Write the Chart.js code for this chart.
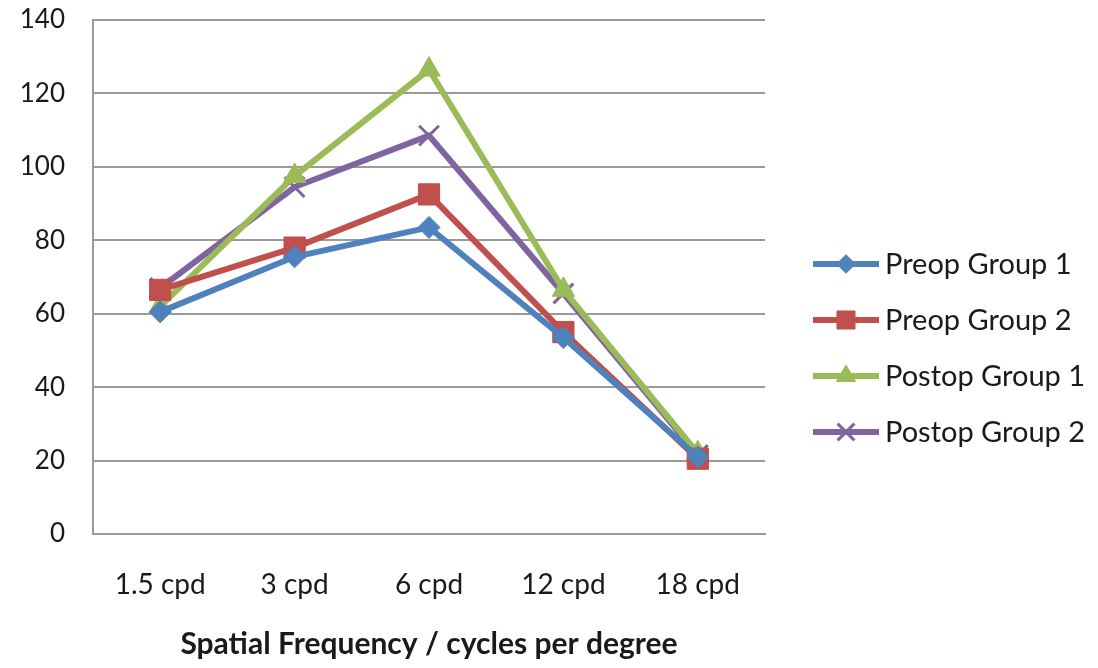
<!DOCTYPE html>
<html>
<head>
<meta charset="utf-8">
<script src="https://cdn.jsdelivr.net/npm/chart.js@4/dist/chart.umd.min.js"></script>
<style>
  html, body { margin: 0; padding: 0; background: #fff; }
  #wrap { width: 1098px; height: 668px; position: relative; }
</style>
</head>
<body>
<div id="wrap"><canvas id="chart"></canvas></div>
<script>
// Chart data
const categories = ['1.5 cpd', '3 cpd', '6 cpd', '12 cpd', '18 cpd'];
const preopGroup1 = [60.5, 75.5, 83.5, 53.5, 21];
const preopGroup2 = [66.5, 78, 92.5, 55, 20.5];
const postopGroup1 = [62, 97.5, 126.5, 66.5, 22];
const postopGroup2 = [67, 94.5, 108.5, 65.5, 21.5];
const yTicks = [0, 20, 40, 60, 80, 100, 120, 140];
const axisTitle = 'Spatial Frequency / cycles per degree';

const FONT = 'Lato, "Open Sans", sans-serif';

const series = [
    { label: 'Preop Group 1', data: preopGroup1, color: '#4F81BD', style: 'rectRot', radius: 11 },
    { label: 'Preop Group 2', data: preopGroup2, color: '#C0504D', style: 'rect', radius: 15 },
    { label: 'Postop Group 1', data: postopGroup1, color: '#9BBB59', style: 'triangle', radius: 13 },
    { label: 'Postop Group 2', data: postopGroup2, color: '#8064A2', style: 'crossRot', radius: 14 }
];

// Legend drawn by hand: line with marker in the middle, like the original
const sideLegend = {
    id: 'sideLegend',
    afterDraw(chart) {
        const ctx = chart.ctx;
        const x0 = 813, x1 = 879, tx = 885;
        const ys = [264, 320, 376, 432];
        ctx.save();
        chart.data.datasets.forEach((ds, i) => {
            const y = ys[i];
            ctx.strokeStyle = ds.borderColor;
            ctx.lineWidth = 6;
            ctx.beginPath();
            ctx.moveTo(x0, y);
            ctx.lineTo(x1, y);
            ctx.stroke();
            ctx.fillStyle = ds.pointBackgroundColor;
            ctx.strokeStyle = ds.pointBorderColor;
            ctx.lineWidth = ds.pointBorderWidth;
            Chart.helpers.drawPoint(ctx, {
                pointStyle: ds.pointStyle,
                radius: ds.pointRadius * 0.85,
                borderWidth: ds.pointBorderWidth,
                rotation: 0
            }, (x0 + x1) / 2, y);
            ctx.fillStyle = '#1a1a1a';
            ctx.font = '29px ' + FONT;
            ctx.textAlign = 'left';
            ctx.textBaseline = 'middle';
            ctx.fillText(ds.label, tx, y + 1);
        });
        ctx.restore();
    }
};

new Chart(document.getElementById('chart'), {
    type: 'line',
    data: {
        labels: categories,
        datasets: series.map(s => ({
            label: s.label,
            data: s.data,
            borderColor: s.color,
            backgroundColor: s.color,
            borderWidth: 6,
            tension: 0,
            pointStyle: s.style,
            pointRadius: s.radius,
            pointHoverRadius: s.radius,
            pointBackgroundColor: s.color,
            pointBorderColor: s.color,
            pointBorderWidth: s.style === 'crossRot' ? 3 : 1
        }))
    },
    options: {
        responsive: true,
        maintainAspectRatio: false,
        animation: false,
        layout: { padding: { left: 0, top: 20, right: 333, bottom: 0 } },
        plugins: {
            legend: { display: false },
            tooltip: { enabled: false }
        },
        scales: {
            x: {
                offset: true,
                grid: { display: false, drawTicks: false, offset: true },
                border: { color: '#9a9a9a', width: 2 },
                ticks: {
                    color: '#1a1a1a',
                    font: { family: FONT, size: 28 },
                    padding: 34
                },
                title: {
                    display: true,
                    text: axisTitle,
                    color: '#1a1a1a',
                    font: { family: FONT, size: 30, weight: 'bold' },
                    padding: { top: 0, bottom: 6 }
                },
                afterFit(scale) { scale.height = 134; }
            },
            y: {
                min: 0,
                max: 140,
                afterBuildTicks(scale) {
                    scale.ticks = yTicks.map(v => ({ value: v }));
                },
                grid: { color: '#9a9a9a', lineWidth: 2, drawTicks: false },
                border: { color: '#9a9a9a', width: 2 },
                ticks: {
                    color: '#1a1a1a',
                    font: { family: FONT, size: 26 },
                    padding: 28
                },
                afterFit(scale) {
                    scale.width = 93;
                    scale.paddingTop = 0;
                    scale.paddingBottom = 0;
                }
            }
        }
    },
    plugins: [sideLegend]
});
</script>
</body>
</html>
